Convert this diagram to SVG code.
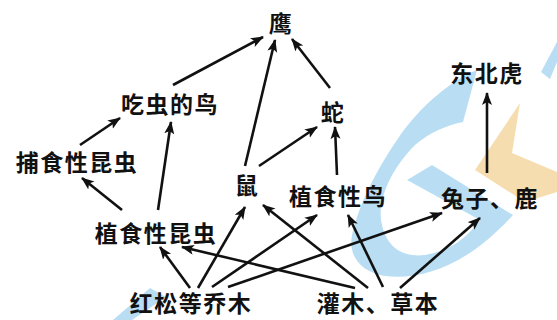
<svg xmlns="http://www.w3.org/2000/svg" width="557" height="320" viewBox="0 0 557 320">
<style>
.lbl{font-family:"Noto Sans CJK SC","Noto Sans CJK TC",sans-serif;font-size:23px;font-weight:bold;fill:#111;text-anchor:middle;dominant-baseline:central;letter-spacing:1.5px}
.e{stroke:#111;stroke-width:2.6;fill:none;marker-end:url(#ah)}
.wb{fill:#b9def3}
.wo{fill:#f6ddb0}
</style>
<defs>
<marker id="ah" markerUnits="userSpaceOnUse" markerWidth="14" markerHeight="12" refX="12" refY="5" orient="auto">
<path d="M0,0 L13,5 L0,10 L3,5 z" fill="#111"/>
</marker>
</defs>
<rect width="557" height="320" fill="#fff"/>
<g id="watermark">
<path class="wb" d="M477,70 C455,78 420,105 397,140 C380,165 360,200 352,235 C348,255 360,272 385,276 C420,280 465,268 513,215 L432,165 L407,180 L480,220 C465,240 450,250 425,255 C400,258 385,245 381,220 C378,195 395,165 415,145 C430,132 448,125 463,122 Z"/>
<path class="wo" d="M520,103 L475,170 L525,202 L557,192 L557,172 L512,153 Z"/>
<path class="wb" d="M541,72 L550,79 L557,62 L557,42 Z"/>
<path class="wb" d="M113,320 L150,288 L166,297 L132,320 Z"/>
</g>
<g id="connectors">
<line class="e" x1="173" y1="85" x2="263" y2="37"/>
<line class="e" x1="245" y1="166" x2="275" y2="40"/>
<line class="e" x1="330" y1="88" x2="292" y2="39"/>
<line class="e" x1="259" y1="166" x2="317" y2="127"/>
<line class="e" x1="337" y1="175" x2="335" y2="127"/>
<line class="e" x1="80" y1="145" x2="120" y2="118"/>
<line class="e" x1="158" y1="210" x2="171" y2="122"/>
<line class="e" x1="122" y1="210" x2="82" y2="178"/>
<line class="e" x1="487" y1="173" x2="487" y2="93"/>
<line class="e" x1="190" y1="288" x2="160" y2="247"/>
<line class="e" x1="198" y1="288" x2="245" y2="207"/>
<line class="e" x1="212" y1="287" x2="317" y2="215"/>
<line class="e" x1="228" y1="287" x2="442" y2="213"/>
<line class="e" x1="355" y1="288" x2="182" y2="247"/>
<line class="e" x1="368" y1="288" x2="263" y2="205"/>
<line class="e" x1="383" y1="287" x2="348" y2="215"/>
<line class="e" x1="400" y1="288" x2="480" y2="218"/>
</g>
<g id="ying"><text class="lbl" x="281" y="22">鹰</text></g>
<g id="chichongdeniao"><text class="lbl" x="170" y="103">吃虫的鸟</text></g>
<g id="she"><text class="lbl" x="333" y="111">蛇</text></g>
<g id="dongbeihu"><text class="lbl" x="487" y="72">东北虎</text></g>
<g id="bushixingkunchong"><text class="lbl" x="77" y="161">捕食性昆虫</text></g>
<g id="shu"><text class="lbl" x="247" y="184">鼠</text></g>
<g id="zhishixingniao"><text class="lbl" x="338" y="195">植食性鸟</text></g>
<g id="tuzilu"><text class="lbl" x="490" y="197">兔子、鹿</text></g>
<g id="zhishixingkunchong"><text class="lbl" x="156" y="232">植食性昆虫</text></g>
<g id="hongsong"><text class="lbl" x="191" y="302">红松等乔木</text></g>
<g id="guanmu"><text class="lbl" x="378" y="302">灌木、草本</text></g>
</svg>
